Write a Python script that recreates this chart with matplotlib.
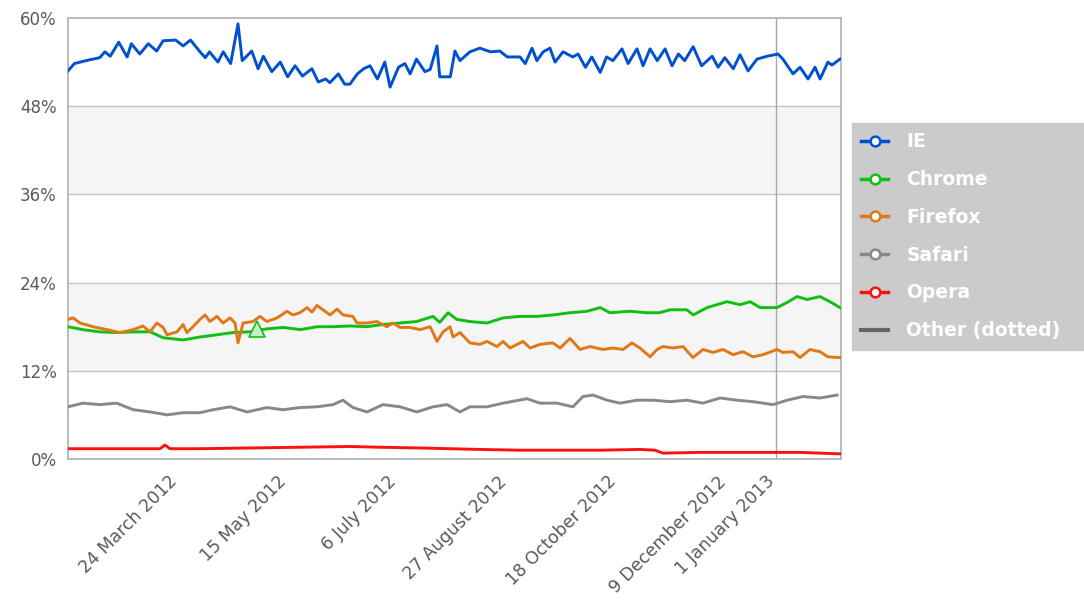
import numpy as np
import matplotlib
matplotlib.use("Agg")
import matplotlib.pyplot as plt
import matplotlib.transforms as mtransforms
from matplotlib.lines import Line2D

# ---------------- data (day offsets from 1 Feb 2012, share in %) ----------------
start = np.datetime64("2012-02-01")

ie_days = [0, 3, 10, 15, 17.5, 20, 24, 28, 30, 34, 38, 42, 45, 51, 54.5, 58, 62.5, 65, 67, 71, 73.5,
           77, 80.5, 82.5, 87, 90, 92.5, 96.5, 100.5, 104, 107.5, 111, 115.5, 118.5, 122, 124, 128,
           131, 133.5, 137, 140, 143, 146.5, 150, 152.5, 156.5, 159.5, 162, 165, 169, 171.5, 174.7,
           176, 181, 183.2, 185.6, 190.3, 195, 200, 204.5, 208, 214, 216.5, 219.7, 222, 225, 228.2,
           230.6, 234.4, 239, 241.5, 245, 248, 252, 255, 258, 262.3, 265.2, 269.4, 272.3, 275.6,
           279, 282.7, 286, 289, 292, 296, 300, 305, 307.8, 311, 315, 318.2, 322, 326.2, 331,
           336.2, 338.5, 343.3, 346.6, 350.4, 353.7, 356.1, 359.8, 361.7, 365.5]
ie_vals = [52.8, 53.8, 54.3, 54.6, 55.4, 54.8, 56.7, 54.7, 56.5, 55.1, 56.5, 55.5, 56.9, 57.0, 56.2,
           57.0, 55.4, 54.6, 55.4, 54.0, 55.4, 53.8, 59.2, 54.2, 55.5, 53.1, 54.8, 52.7, 54.0, 52.0,
           53.5, 52.1, 53.1, 51.3, 51.7, 51.2, 52.4, 51.0, 51.0, 52.4, 53.1, 53.5, 51.7, 54.0, 50.6,
           53.3, 53.8, 52.4, 54.4, 52.7, 53.0, 56.2, 52.0, 52.0, 55.5, 54.2, 55.4, 55.9, 55.4, 55.5,
           54.7, 54.7, 53.8, 55.9, 54.2, 55.4, 55.9, 54.0, 55.4, 54.7, 55.1, 53.3, 54.7, 52.6, 54.7,
           54.2, 55.8, 53.8, 55.8, 53.5, 55.8, 54.2, 55.8, 53.5, 55.1, 54.2, 56.1, 53.5, 54.8, 53.3,
           54.6, 53.1, 55.0, 52.8, 54.4, 54.8, 55.1, 54.4, 52.4, 53.3, 51.7, 53.3, 51.7, 54.0, 53.6,
           54.4]

chrome_days = [0, 7, 15, 23, 31, 39, 45, 54.5, 62.5, 70.5, 78, 86, 94, 102, 110, 118, 125.5, 133.5,
               141.5, 149, 157, 165, 172.8, 176, 180, 184, 190.3, 198.4, 206, 214, 222, 229.6, 237.7,
               245.7, 252, 256.6, 266, 274, 280, 285, 293, 296, 302.6, 312, 318.2, 323, 327.7, 335.7,
               340.5, 345.2, 350, 356, 360.8, 365.5]
chrome_vals = [18.0, 17.6, 17.3, 17.2, 17.3, 17.3, 16.5, 16.2, 16.6, 16.9, 17.2, 17.3, 17.7, 17.9,
               17.6, 18.0, 18.0, 18.1, 18.0, 18.3, 18.5, 18.7, 19.4, 18.6, 19.9, 19.0, 18.7, 18.5,
               19.2, 19.4, 19.4, 19.6, 19.9, 20.1, 20.6, 19.9, 20.1, 19.9, 19.9, 20.3, 20.3, 19.6,
               20.6, 21.4, 21.0, 21.4, 20.6, 20.6, 21.3, 22.1, 21.7, 22.1, 21.4, 20.6]

firefox_days = [0, 2.4, 5.7, 11.8, 18.5, 24.6, 30.8, 35.5, 38.8, 42.1, 45, 46.9, 51.6, 54.5, 56.3,
                59.2, 62.5, 64.9, 67.2, 70.5, 73.4, 76.7, 79.1, 80.5, 82.9, 87.6, 90.9, 94.2, 99,
                103.7, 106.5, 109.8, 113.2, 115.5, 117.9, 120.7, 124.1, 127.4, 130.2, 134.9, 136.8,
                141.6, 146.3, 151, 153.9, 157.2, 161.9, 166.7, 171.4, 172.8, 174.7, 177.6, 180.9,
                182.3, 185.6, 190.3, 195.1, 198.4, 203.1, 206, 209.3, 215.4, 218.8, 223.5, 229.6,
                233, 237.7, 242.4, 247.2, 253.3, 258, 262.8, 267, 270.8, 275.6, 278.9, 281.7, 286.5,
                291.2, 295.9, 300.7, 305.4, 310.1, 314.9, 319.6, 324.3, 329.1, 335.7, 338.5, 343.3,
                346.6, 351.3, 356.1, 359.8, 365.5]
firefox_vals = [19.0, 19.2, 18.5, 18.0, 17.6, 17.2, 17.6, 18.1, 17.3, 18.5, 17.9, 16.9, 17.3, 18.3,
                17.2, 18.0, 19.0, 19.6, 18.7, 19.4, 18.5, 19.2, 18.5, 15.8, 18.5, 18.7, 19.4, 18.7,
                19.2, 20.1, 19.6, 19.9, 20.6, 20.0, 20.9, 20.3, 19.6, 20.4, 19.6, 19.4, 18.5, 18.5,
                18.7, 18.0, 18.5, 17.9, 17.9, 17.6, 18.0, 17.2, 16.0, 17.3, 18.0, 16.6, 17.2, 15.8,
                15.6, 16.0, 15.3, 16.0, 15.1, 16.0, 15.1, 15.6, 15.8, 15.1, 16.4, 14.9, 15.3, 14.9,
                15.1, 14.9, 15.8, 15.1, 13.9, 14.9, 15.3, 15.1, 15.3, 13.8, 14.9, 14.5, 14.9, 14.2,
                14.6, 13.9, 14.2, 14.9, 14.5, 14.6, 13.8, 14.9, 14.6, 13.9, 13.8]

safari_days = [0, 7, 15, 23, 31, 39, 47, 54.5, 62.5, 68.7, 76.7, 84.8, 94.2, 101.8, 109.8, 117.9,
               125.5, 130.2, 134.9, 141.6, 149.1, 157.2, 165.2, 172.8, 179.5, 185.6, 190.3, 198.4,
               206, 217.3, 223.5, 231.5, 239.1, 243.8, 248.6, 255.2, 261.4, 269.4, 277, 285, 293.1,
               300.7, 308.7, 316.8, 324.3, 333.8, 340.5, 348, 356.1, 364.1]
safari_vals = [7.1, 7.6, 7.4, 7.6, 6.7, 6.4, 6.0, 6.3, 6.3, 6.7, 7.1, 6.4, 7.0, 6.7, 7.0, 7.1, 7.4,
               8.0, 7.0, 6.4, 7.4, 7.1, 6.4, 7.1, 7.4, 6.4, 7.1, 7.1, 7.6, 8.2, 7.6, 7.6, 7.1, 8.5,
               8.7, 8.0, 7.6, 8.0, 8.0, 7.8, 8.0, 7.6, 8.3, 8.0, 7.8, 7.4, 8.0, 8.5, 8.3, 8.7]

opera_days = [0, 15.2, 43.6, 45.9, 48.3, 62.5, 86.2, 109.8, 133.5, 147.7, 166.7, 195.1, 214, 233,
              251.9, 270.8, 277.9, 281.7, 299.2, 327.7, 346.6, 365.5]
opera_vals = [1.4, 1.4, 1.4, 1.9, 1.4, 1.4, 1.5, 1.6, 1.7, 1.6, 1.5, 1.3, 1.2, 1.2, 1.2, 1.3, 1.2,
              0.8, 0.9, 0.9, 0.9, 0.7]

marker_day, marker_val = 89.5, 17.7

series_names = ["IE", "Chrome", "Firefox", "Safari", "Opera", "Other (dotted)"]
series_colors = ["#0050d0", "#10c010", "#e07818", "#888888", "#ff1010", "#666666"]

tick_labels = ["24 March 2012", "15 May 2012", "6 July 2012", "27 August 2012",
               "18 October 2012", "9 December 2012", "1 January 2013"]
tick_dates = ["2012-03-24", "2012-05-15", "2012-07-06", "2012-08-27",
              "2012-10-18", "2012-12-09", "2013-01-01"]
y_ticks = [0, 12, 24, 36, 48, 60]


def to_dates(days):
    return start + (np.array(days) * 24 * 3600).astype("timedelta64[s]")


# ---------------- figure ----------------
W, H = 1084, 611
fig = plt.figure(figsize=(W / 100, H / 100), dpi=100)
ax = fig.add_axes([68 / W, 1 - 459 / H, (841 - 68) / W, (459 - 18) / H])

ax.set_xlim(start, np.datetime64("2013-02-01"))
ax.set_ylim(0, 60)

# alternating bands
for lo, hi in [(12, 24), (36, 48)]:
    ax.axhspan(lo, hi, color="#f5f5f5", zorder=0, lw=0)
for yv in y_ticks[1:-1]:
    ax.axhline(yv, color="#c4c4c4", lw=1.0, zorder=1)
ax.axvline(np.datetime64("2013-01-01"), color="#a8a8a8", lw=1.0, zorder=1)

data = [(ie_days, ie_vals), (chrome_days, chrome_vals), (firefox_days, firefox_vals),
        (safari_days, safari_vals), (opera_days, opera_vals)]
for (d, v), c in zip(data, series_colors[:5]):
    ax.plot(to_dates(d), v, color=c, lw=2.1, zorder=3, solid_joinstyle="round")

ax.plot(to_dates([marker_day]), [marker_val], marker="^", ms=11, mfc="#c8f0c8",
        mec=series_colors[1], mew=1.2, ls="none", zorder=4)

for sp in ax.spines.values():
    sp.set_color("#b0b0b0")
    sp.set_linewidth(1.2)

ax.set_yticks(y_ticks)
ax.set_yticklabels([f"{t}%" for t in y_ticks], fontsize=12)
ax.set_xticks([np.datetime64(t) for t in tick_dates])
ax.set_xticklabels(tick_labels, rotation=45, ha="right", rotation_mode="anchor", fontsize=12.5)
ax.tick_params(axis="both", length=0, colors="#5a5a5a")
ax.tick_params(axis="x", pad=9)
ax.tick_params(axis="y", pad=8)
shift = mtransforms.ScaledTranslation(-10 / 100, -1 / 100, fig.dpi_scale_trans)
for lab in ax.get_xticklabels():
    lab.set_transform(lab.get_transform() + shift)

# legend
handles = []
for name, c in zip(series_names, series_colors):
    if name.startswith("Other"):
        handles.append(Line2D([], [], color=c, lw=3))
    else:
        handles.append(Line2D([], [], color=c, lw=2.5, marker="o", ms=7,
                              mfc="white", mec=c, mew=1.8))
leg = fig.legend(handles, series_names, loc="upper left",
                 bbox_to_anchor=(852 / W, 1 - 123 / H - 0.01, 240 / W, 0.01), mode="expand",
                 borderaxespad=0,
                 frameon=True, fancybox=False, facecolor="#cbcbcb", edgecolor="#cbcbcb",
                 framealpha=1, labelcolor="white", handlelength=1.4, handletextpad=1.0,
                 labelspacing=1.0, borderpad=0.5,
                 prop={"weight": "bold", "size": 13.5})

fig.savefig("out.png", dpi=100)
